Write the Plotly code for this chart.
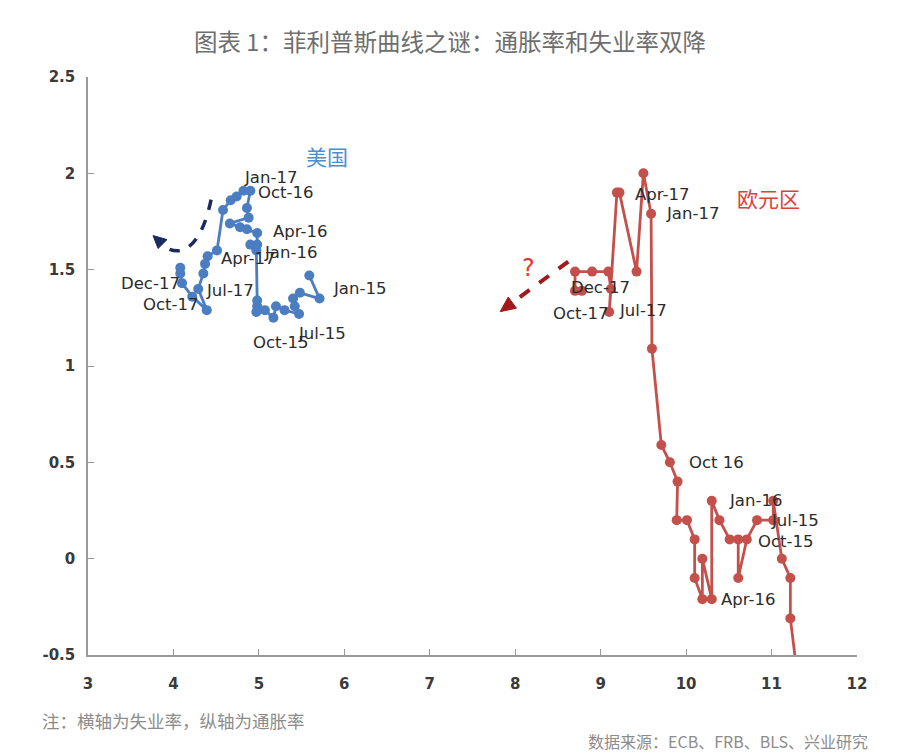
import plotly.graph_objects as go

# ---------------- data ----------------
us_months = ["Dec-14","Jan-15","Feb-15","Mar-15","Apr-15","May-15","Jun-15","Jul-15","Aug-15","Sep-15",
             "Oct-15","Nov-15","Dec-15","Jan-16","Feb-16","Mar-16","Apr-16","May-16","Jun-16","Jul-16",
             "Aug-16","Sep-16","Oct-16","Nov-16","Dec-16","Jan-17","Feb-17","Mar-17","Apr-17","May-17",
             "Jun-17","Jul-17","Aug-17","Sep-17","Oct-17","Nov-17","Dec-17"]
us_unemp = [5.59,5.71,5.48,5.40,5.42,5.47,5.30,5.20,5.17,5.07,
            4.97,4.98,4.98,4.97,4.90,4.98,4.98,4.86,4.78,4.66,
            4.88,4.86,4.90,4.82,4.74,4.67,4.58,4.51,4.40,4.37,
            4.35,4.29,4.39,4.22,4.10,4.08,4.08]
us_infl = [1.47,1.35,1.38,1.35,1.31,1.27,1.29,1.31,1.25,1.29,
           1.28,1.31,1.34,1.60,1.63,1.63,1.69,1.71,1.72,1.74,
           1.77,1.82,1.91,1.91,1.88,1.86,1.81,1.60,1.57,1.53,
           1.48,1.40,1.29,1.36,1.43,1.48,1.51]

ez_months = ["Jan-15","Feb-15","Mar-15","Apr-15","May-15","Jun-15","Jul-15","Aug-15","Sep-15","Oct-15",
             "Nov-15","Dec-15","Jan-16","Feb-16","Mar-16","Apr-16","May-16","Jun-16","Jul-16","Aug-16",
             "Sep-16","Oct-16","Nov-16","Dec-16","Jan-17","Feb-17","Mar-17","Apr-17","May-17","Jun-17",
             "Jul-17","Aug-17","Sep-17","Oct-17","Nov-17","Dec-17"]
ez_unemp = [11.30,11.22,11.22,11.12,11.02,11.02,10.83,10.71,10.61,10.61,
            10.51,10.39,10.30,10.30,10.19,10.19,10.10,10.10,10.01,9.89,
            9.90,9.81,9.71,9.60,9.59,9.50,9.42,9.22,9.19,9.10,
            9.12,9.09,8.90,8.70,8.70,8.78]
ez_infl = [-0.60,-0.31,-0.10,0.00,0.30,0.20,0.20,0.10,-0.10,0.10,
           0.10,0.20,0.30,-0.21,0.00,-0.21,-0.10,0.10,0.20,0.20,
           0.40,0.50,0.59,1.09,1.79,2.00,1.49,1.90,1.90,1.28,
           1.40,1.49,1.49,1.49,1.39,1.39]

x_ticks = [3, 4, 5, 6, 7, 8, 9, 10, 11, 12]
y_ticks = [-0.5, 0, 0.5, 1, 1.5, 2, 2.5]
y_tick_text = ["-0.5", "0", "0.5", "1", "1.5", "2", "2.5"]

# point labels (text, x, y) in data units
us_labels = [("Jan-17", 5.13, 1.98), ("Oct-16", 5.31, 1.90), ("Apr-16", 5.48, 1.70),
             ("Jan-16", 5.37, 1.59), ("Apr-17", 4.87, 1.56), ("Dec-17", 3.73, 1.43),
             ("Jul-17", 4.66, 1.39), ("Oct-17", 3.96, 1.32), ("Jan-15", 6.18, 1.40),
             ("Oct-15", 5.25, 1.12), ("Jul-15", 5.74, 1.17)]
ez_labels = [("Apr-17", 9.72, 1.89), ("Jan-17", 10.07, 1.79), ("Dec-17", 8.995, 1.41),
             ("Oct-17", 8.76, 1.27), ("Jul-17", 9.50, 1.29), ("Oct 16", 10.35, 0.50),
             ("Jan-16", 10.81, 0.30), ("Jul-15", 11.28, 0.20), ("Oct-15", 11.16, 0.09),
             ("Apr-16", 10.72, -0.21)]

US_COLOR = "#4a7ec0"
EZ_COLOR = "#c4504c"

fig = go.Figure()
fig.add_trace(go.Scatter(x=us_unemp, y=us_infl, mode="lines+markers", text=us_months,
                         line=dict(color=US_COLOR, width=2.8),
                         marker=dict(color=US_COLOR, size=10), name="美国", showlegend=False))
fig.add_trace(go.Scatter(x=ez_unemp, y=ez_infl, mode="lines+markers", text=ez_months,
                         line=dict(color=EZ_COLOR, width=2.8),
                         marker=dict(color=EZ_COLOR, size=10), name="欧元区", showlegend=False))

lab_font = dict(family="DejaVu Sans", size=16.5, color="#2b2b2b")
ann = []
for t, x, y in us_labels + ez_labels:
    ann.append(dict(x=x, y=y, xref="x", yref="y", text=t, showarrow=False, font=lab_font))

ann.append(dict(x=5.80, y=2.09, xref="x", yref="y", text="美国", showarrow=False,
                font=dict(family="Noto Sans CJK SC", size=21, color="#4a8fd0")))
ann.append(dict(x=10.96, y=1.87, xref="x", yref="y", text="欧元区", showarrow=False,
                font=dict(family="Noto Sans CJK SC", size=21, color="#d9413c")))
ann.append(dict(x=8.15, y=1.51, xref="x", yref="y", text="?", showarrow=False,
                font=dict(family="DejaVu Sans", size=24, color="#e23a32")))

# footnotes
ann.append(dict(x=-0.0624, y=-0.1125, xref="paper", yref="paper", xanchor="left", yanchor="middle",
                text="注：横轴为失业率，纵轴为通胀率", showarrow=False,
                font=dict(family="Noto Sans CJK SC", size=17.5, color="#8c8c8c")))
ann.append(dict(x=1.017, y=-0.149, xref="paper", yref="paper", xanchor="right", yanchor="middle",
                text="数据来源：ECB、FRB、BLS、兴业研究", showarrow=False,
                font=dict(family="Noto Sans CJK SC", size=16, color="#8c8c8c")))

shapes = [
    # US dashed curved arrow
    dict(type="path", xref="x", yref="y",
         path="M 4.440,1.864 C 4.347,1.656 4.136,1.542 3.878,1.625",
         line=dict(color="#1c2b5e", width=3.5, dash="dash")),
    dict(type="path", xref="x", yref="y",
         path="M 3.761,1.677 L 3.925,1.656 L 3.820,1.610 Z",
         fillcolor="#1c2b5e", line=dict(color="#1c2b5e", width=1)),
    # Euro dashed arrow
    dict(type="line", xref="x", yref="y", x0=8.621, y0=1.542, x1=7.965, y1=1.329,
         line=dict(color="#a3191b", width=4, dash="dash")),
    dict(type="path", xref="x", yref="y",
         path="M 7.824,1.282 L 8.014,1.300 L 7.918,1.358 Z",
         fillcolor="#a3191b", line=dict(color="#a3191b", width=1)),
]

tick_font = dict(family="DejaVu Sans", size=15, color="#3a3a3a", weight="bold")

fig.update_layout(
    width=900, height=755,
    margin=dict(l=88, r=43, t=77, b=100),
    paper_bgcolor="white", plot_bgcolor="white",
    title=dict(text="图表 1：菲利普斯曲线之谜：通胀率和失业率双降", x=0.5, xanchor="center",
               y=(755 - 43) / 755, yanchor="middle",
               font=dict(family="Noto Sans CJK SC", size=23.5, color="#6e6e6e")),
    xaxis=dict(range=[3, 12], tickvals=x_ticks, showgrid=False, zeroline=False,
               showline=True, linecolor="#9a9a9a", linewidth=1.5,
               ticks="inside", ticklen=6, tickcolor="#9a9a9a", tickwidth=1.2,
               tickfont=tick_font, ticklabelstandoff=14),
    yaxis=dict(range=[-0.5, 2.5], tickvals=y_ticks, ticktext=y_tick_text, showgrid=False,
               zeroline=False, showline=True, linecolor="#9a9a9a", linewidth=1.5,
               ticks="inside", ticklen=6, tickcolor="#9a9a9a", tickwidth=1.2,
               tickfont=tick_font, ticklabelstandoff=8),
    annotations=ann,
    shapes=shapes,
    showlegend=False,
)

fig.write_html("out.html")
